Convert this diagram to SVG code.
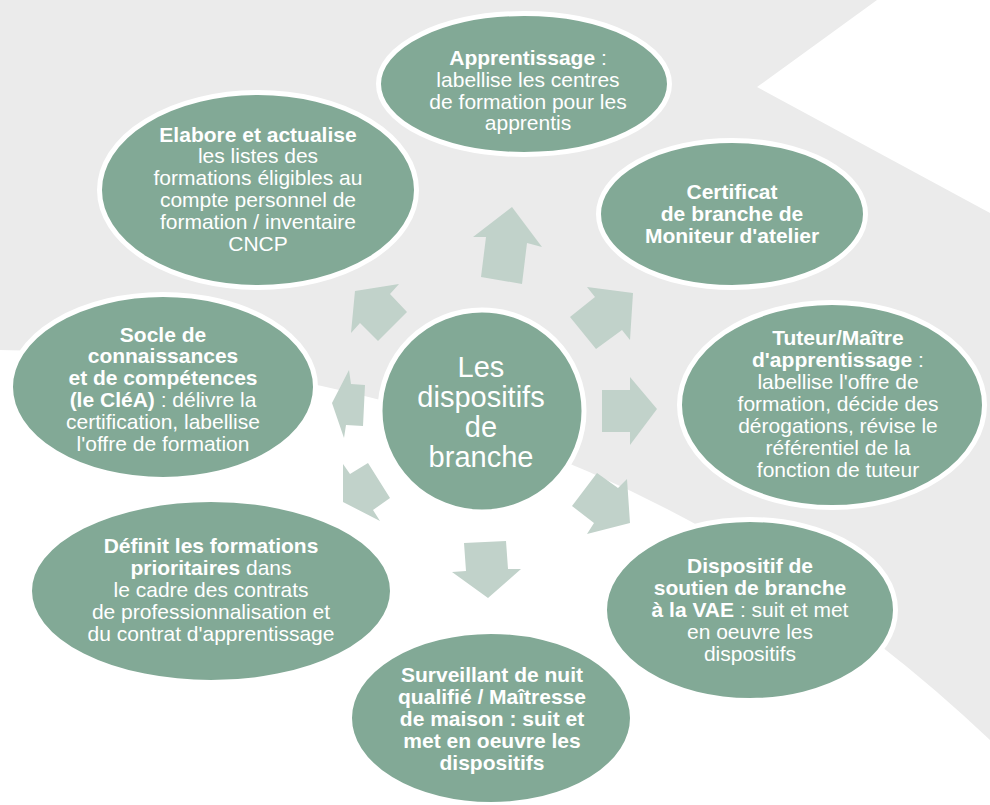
<svg xmlns="http://www.w3.org/2000/svg" width="990" height="805" viewBox="0 0 990 805">
<style>
.node{fill:#82a996;stroke:#ffffff;stroke-width:5}
.arr{fill:#c1d2ca}
text{font-family:"Liberation Sans",Arial,sans-serif;font-size:21px;fill:#ffffff;text-anchor:middle}
.b{font-weight:bold}
.big{font-size:29px}
</style>
<rect width="990" height="805" fill="#ffffff"/>
<path d="M0,0 L877,0 L757,87 L990,213 L990,740 Q590,360 0,350 Z" fill="#ebebeb"/>
<g id="connectors">
<polygon class="arr" points="481,277 486,237 473,237 512,207 542,247 527,243 522,284"/>
<polygon class="arr" points="570,317 595,297 587,287 633,293 630,340 622,330 596,349"/>
<polygon class="arr" points="602,390 630,390 630,377 657,409 630,445 630,432 602,432"/>
<polygon class="arr" points="597,473 618,488 627,479 630,523 587,534 594,523 572,506"/>
<polygon class="arr" points="464,543 506,541 508,569 521,569 488,598 452,572 466,571"/>
<polygon class="arr" points="368,463 350,474 343,464 343,502 380,521 373,510 390,498"/>
<polygon class="arr" points="365,385 351,384 349,370 332,403 344,438 346,425 363,426"/>
<polygon class="arr" points="407,312 390,294 399,284 355,291 351,333 360,323 378,341"/>
</g>
<g id="n-apprentissage">
<ellipse class="node" cx="524" cy="84" rx="145.5" ry="70.5"/>
<text x="528" y="65"><tspan class="b">Apprentissage</tspan> :</text>
<text x="528" y="87">labellise les centres</text>
<text x="528" y="109">de formation pour les</text>
<text x="528" y="130">apprentis</text>
</g>
<g id="n-elabore">
<ellipse class="node" cx="258" cy="190" rx="158.5" ry="97.5"/>
<text class="b" x="258" y="142">Elabore et actualise</text>
<text x="258" y="163">les listes des</text>
<text x="258" y="185">formations éligibles au</text>
<text x="258" y="207">compte personnel de</text>
<text x="258" y="229">formation / inventaire</text>
<text x="258" y="251">CNCP</text>
</g>
<g id="n-certificat">
<ellipse class="node" cx="732" cy="214" rx="133.5" ry="73.5"/>
<text class="b" x="732" y="199">Certificat</text>
<text class="b" x="732" y="221">de branche de</text>
<text class="b" x="732" y="243">Moniteur d'atelier</text>
</g>
<g id="n-tuteur">
<ellipse class="node" cx="832" cy="405" rx="152.5" ry="102.5"/>
<text class="b" x="838" y="345">Tuteur/Maître</text>
<text x="838" y="367"><tspan class="b">d'apprentissage</tspan> :</text>
<text x="838" y="389">labellise l'offre de</text>
<text x="838" y="411">formation, décide des</text>
<text x="838" y="433">dérogations, révise le</text>
<text x="838" y="455">référentiel de la</text>
<text x="838" y="477">fonction de tuteur</text>
</g>
<g id="n-vae">
<ellipse class="node" cx="750" cy="610" rx="145.5" ry="90.5"/>
<text class="b" x="750" y="573">Dispositif de</text>
<text class="b" x="750" y="595">soutien de branche</text>
<text x="750" y="617"><tspan class="b">à la VAE</tspan> : suit et met</text>
<text x="750" y="639">en oeuvre les</text>
<text x="750" y="661">dispositifs</text>
</g>
<g id="n-surveillant">
<ellipse class="node" cx="491" cy="718" rx="141.5" ry="86.5"/>
<text class="b" x="492" y="682">Surveillant de nuit</text>
<text class="b" x="492" y="704">qualifié / Maîtresse</text>
<text class="b" x="492" y="726">de maison : suit et</text>
<text class="b" x="492" y="748">met en oeuvre les</text>
<text class="b" x="492" y="770">dispositifs</text>
</g>
<g id="n-definit">
<ellipse class="node" cx="211" cy="591" rx="181.5" ry="91.5"/>
<text class="b" x="211" y="553">Définit les formations</text>
<text x="211" y="575"><tspan class="b">prioritaires</tspan> dans</text>
<text x="211" y="597">le cadre des contrats</text>
<text x="211" y="619">de professionnalisation et</text>
<text x="211" y="641">du contrat d'apprentissage</text>
</g>
<g id="n-socle">
<ellipse class="node" cx="163" cy="387" rx="152.5" ry="92.5"/>
<text class="b" x="163" y="342">Socle de</text>
<text class="b" x="163" y="363">connaissances</text>
<text class="b" x="163" y="385">et de compétences</text>
<text x="163" y="407"><tspan class="b">(le CléA)</tspan> : délivre la</text>
<text x="163" y="429">certification, labellise</text>
<text x="163" y="451">l'offre de formation</text>
</g>
<g id="n-center">
<ellipse class="node" cx="482" cy="411" rx="102" ry="101"/>
<text class="big" x="481" y="377">Les</text>
<text class="big" x="481" y="407">dispositifs</text>
<text class="big" x="481" y="437">de</text>
<text class="big" x="481" y="467">branche</text>
</g>
</svg>
